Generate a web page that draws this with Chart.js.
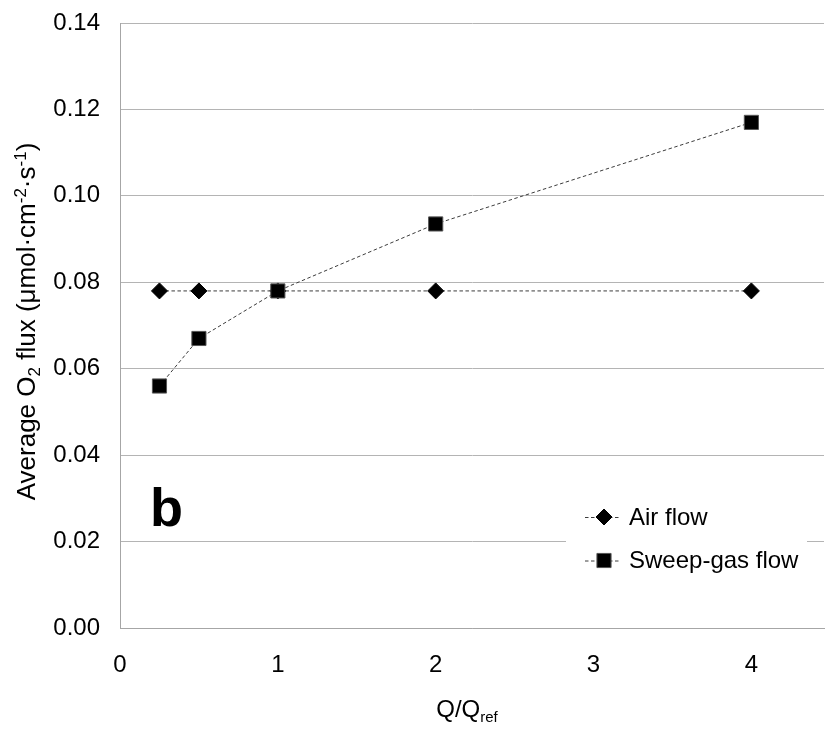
<!DOCTYPE html>
<html>
<head>
<meta charset="utf-8">
<script src="https://cdn.jsdelivr.net/npm/chart.js@4.4.1/dist/chart.umd.min.js"></script>
<style>
  html, body { margin: 0; padding: 0; background: #fff; overflow: hidden; }
  #wrap { width: 835px; height: 729px; position: relative; }
</style>
</head>
<body>
<div id="wrap"><canvas id="c" width="835" height="729"></canvas></div>
<script>
// Flow ratio Q/Qref and average O2 flux (µmol·cm-2·s-1)
const flowRatio = [0.25, 0.5, 1, 2, 4];
const airFlux = [0.078, 0.078, 0.078, 0.078, 0.078];
const sweepFlux = [0.056, 0.067, 0.078, 0.0935, 0.117];
const seriesNames = ['Air flow', 'Sweep-gas flow'];
const xTicks = [0, 1, 2, 3, 4];
const yTicks = [0, 0.02, 0.04, 0.06, 0.08, 0.10, 0.12, 0.14];
const panelLabel = 'b';
// axis titles split into normal / subscript / superscript runs
const yTitleParts = [['Average O', 'n'], ['2', 'sub'], [' flux (\u03bcmol\u00b7cm', 'n'], ['-2', 'sup'], ['\u00b7s', 'n'], ['-1', 'sup'], [')', 'n']];
const xTitleParts = [['Q/Q', 'n'], ['ref', 'sub']];

const FAMILY = '"Liberation Sans", Arial, Helvetica, sans-serif';
const LINE_COLOR = '#3c3c3c';
const DASH = [3.5, 2.5];

const toPoints = (xs, ys) => xs.map((x, i) => ({ x: x, y: ys[i] }));

function drawRich(ctx, parts, size) {
  const small = Math.round(size * 0.64);
  const runs = parts.map(([t, kind]) => {
    const fs = kind === 'n' ? size : small;
    ctx.font = fs + 'px ' + FAMILY;
    return { t, fs, dy: kind === 'sub' ? 5 : kind === 'sup' ? -9 : 0, w: ctx.measureText(t).width };
  });
  const total = runs.reduce((s, r) => s + r.w, 0);
  let x = -total / 2;
  ctx.textAlign = 'left';
  ctx.textBaseline = 'alphabetic';
  runs.forEach(r => {
    ctx.font = r.fs + 'px ' + FAMILY;
    ctx.fillText(r.t, x, r.dy);
    x += r.w;
  });
}

function marker(ctx, style, x, y) {
  const opts = { pointStyle: style.pointStyle, radius: style.pointRadius, rotation: 0, borderWidth: 1 };
  ctx.save();
  ctx.fillStyle = style.pointBackgroundColor;
  ctx.strokeStyle = style.pointBorderColor;
  ctx.lineWidth = 1;
  Chart.helpers.drawPoint(ctx, opts, x, y);
  ctx.restore();
}

// keep the plot box fixed: no extra room for the end tick labels
function noScalePadding(s) {
  s.paddingTop = 0; s.paddingBottom = 0; s.paddingLeft = 0; s.paddingRight = 0;
}

const decorations = {
  id: 'decorations',
  afterDraw(chart) {
    const ctx = chart.ctx;
    const a = chart.chartArea;
    ctx.save();
    ctx.fillStyle = '#000';

    // y title, rotated
    ctx.save();
    ctx.translate(35, (a.top + a.bottom) / 2 - 4);
    ctx.rotate(-Math.PI / 2);
    drawRich(ctx, yTitleParts, 26);
    ctx.restore();

    // x title
    ctx.save();
    ctx.translate((a.left + a.right) / 2 - 5, 717);
    drawRich(ctx, xTitleParts, 24);
    ctx.restore();

    // panel letter
    ctx.font = 'bold 54px ' + FAMILY;
    ctx.textAlign = 'left';
    ctx.textBaseline = 'alphabetic';
    ctx.fillText(panelLabel, a.left + 30, 526);

    // inset legend with white backing
    const boxL = a.left + 446, boxR = a.right - 17;
    ctx.fillStyle = '#fff';
    ctx.fillRect(boxL, 492, boxR - boxL, 92);
    chart.data.datasets.forEach((ds, i) => {
      const y = 517 + i * 43.5;
      ctx.save();
      ctx.strokeStyle = ds.borderColor;
      ctx.lineWidth = ds.borderWidth;
      ctx.setLineDash(ds.borderDash);
      ctx.beginPath();
      ctx.moveTo(585, y + 0.5);
      ctx.lineTo(621, y + 0.5);
      ctx.stroke();
      ctx.restore();
      marker(ctx, ds, 604, y);
      ctx.fillStyle = '#000';
      ctx.font = '24px ' + FAMILY;
      ctx.textBaseline = 'middle';
      ctx.fillText(ds.label, 629, y + 1);
    });
    ctx.restore();
  }
};

new Chart(document.getElementById('c'), {
  type: 'line',
  data: {
    datasets: [
      {
        label: seriesNames[0],
        data: toPoints(flowRatio, airFlux),
        borderColor: LINE_COLOR, borderWidth: 1, borderDash: DASH,
        pointStyle: 'rectRot', pointRadius: 8,
        pointBackgroundColor: '#000', pointBorderColor: '#000', pointBorderWidth: 1,
        fill: false, tension: 0, order: 2
      },
      {
        label: seriesNames[1],
        data: toPoints(flowRatio, sweepFlux),
        borderColor: LINE_COLOR, borderWidth: 1, borderDash: DASH,
        pointStyle: 'rect', pointRadius: 10,
        pointBackgroundColor: '#000', pointBorderColor: '#555', pointBorderWidth: 1,
        fill: false, tension: 0, order: 1
      }
    ]
  },
  options: {
    responsive: false,
    animation: false,
    devicePixelRatio: 1,
    layout: { padding: { top: 23, right: 0, bottom: 0, left: 0 } },
    plugins: { legend: { display: false }, tooltip: { enabled: false }, title: { display: false } },
    scales: {
      x: {
        type: 'linear', min: 0, max: 4.46,
        afterBuildTicks: s => { s.ticks = xTicks.map(v => ({ value: v })); },
        afterFit: s => { s.height = 101; noScalePadding(s); },
        grid: { display: false, drawTicks: false },
        border: { display: true, color: '#a6a6a6', width: 1 },
        ticks: {
          color: '#000', padding: 23, maxRotation: 0, autoSkip: false,
          font: { family: FAMILY, size: 24 },
          callback: v => String(v)
        }
      },
      y: {
        type: 'linear', min: 0, max: 0.14,
        afterBuildTicks: s => { s.ticks = yTicks.map(v => ({ value: v })); },
        afterFit: s => { s.width = 120; noScalePadding(s); },
        grid: { color: '#b4b4b4', lineWidth: 1, drawTicks: false },
        border: { display: true, color: '#a6a6a6', width: 1 },
        ticks: {
          color: '#000', padding: 20,
          font: { family: FAMILY, size: 24 },
          callback: v => Number(v).toFixed(2)
        }
      }
    }
  },
  plugins: [decorations]
});
</script>
</body>
</html>
